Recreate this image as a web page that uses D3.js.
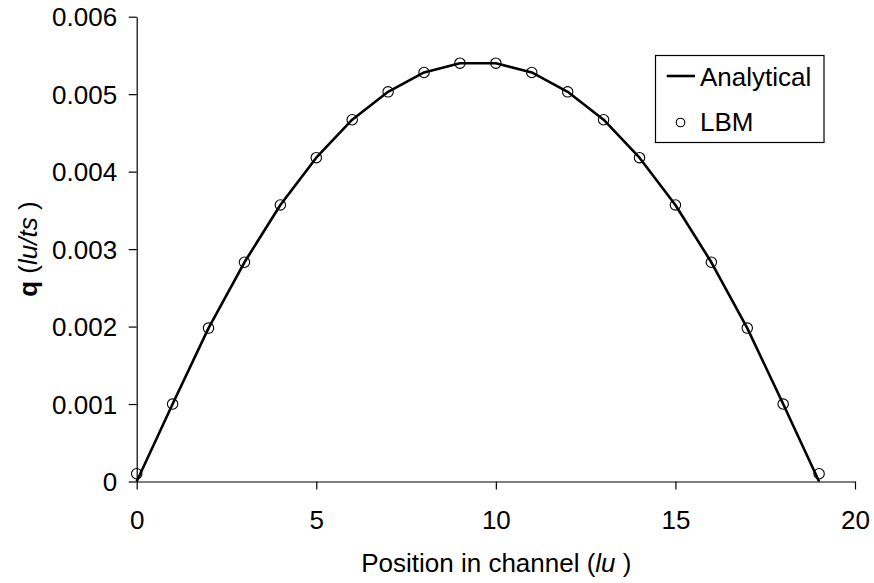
<!DOCTYPE html>
<html>
<head>
<meta charset="utf-8">
<script src="https://cdn.jsdelivr.net/npm/d3@7/dist/d3.min.js"></script>
<style>
  html, body { margin: 0; padding: 0; background: #fff; }
  svg { display: block; }
  text { font-family: "Liberation Sans", Arial, Helvetica, sans-serif; fill: #000; }
</style>
</head>
<body>
<svg id="chart" width="874" height="583"></svg>
<script>
// ---- data ----
const positions = [0,1,2,3,4,5,6,7,8,9,10,11,12,13,14,15,16,17,18,19];
const analytical = [0, 0.001, 0.00198, 0.00283, 0.00357, 0.00418, 0.00467, 0.00503, 0.00528, 0.0054,
                    0.0054, 0.00528, 0.00503, 0.00467, 0.00418, 0.00357, 0.00283, 0.00198, 0.001, 0];
const lbm = [0.0001, 0.001, 0.00198, 0.00283, 0.00357, 0.00418, 0.00467, 0.00503, 0.00528, 0.0054,
             0.0054, 0.00528, 0.00503, 0.00467, 0.00418, 0.00357, 0.00283, 0.00198, 0.001, 0.0001];
const xTicks = [0, 5, 10, 15, 20];
const yTicks = [0, 0.001, 0.002, 0.003, 0.004, 0.005, 0.006];
const yTickLabels = ["0", "0.001", "0.002", "0.003", "0.004", "0.005", "0.006"];
const seriesNames = ["Analytical", "LBM"];

// ---- layout ----
const svg = d3.select("#chart");
const pLeft = 136.7, pRight = 855, pTop = 16.7, pBottom = 481.5;
const x = d3.scaleLinear().domain([0, 20]).range([pLeft, pRight]);
const y = d3.scaleLinear().domain([0, 0.006]).range([pBottom, pTop]);
const fs = 26;

// x axis
const xAxis = d3.axisBottom(x).tickValues(xTicks).tickSizeInner(8).tickSizeOuter(0).tickPadding(0)
  .tickFormat(d3.format("d"));
const gx = svg.append("g").attr("transform", `translate(0,${pBottom})`).call(xAxis);
gx.select(".domain").attr("stroke", "#000").attr("stroke-width", 1.2);
gx.selectAll(".tick line").attr("stroke", "#000").attr("stroke-width", 1.2);
gx.selectAll(".tick text").attr("font-size", fs).attr("font-family", "Liberation Sans, Arial, sans-serif")
  .attr("y", 47).attr("dy", 0);

// y axis
const yAxis = d3.axisLeft(y).tickValues(yTicks).tickSizeInner(8).tickSizeOuter(0).tickPadding(0)
  .tickFormat((d, i) => yTickLabels[i]);
const gy = svg.append("g").attr("transform", `translate(${pLeft},0)`).call(yAxis);
gy.select(".domain").attr("stroke", "#000").attr("stroke-width", 1.2);
gy.selectAll(".tick line").attr("stroke", "#000").attr("stroke-width", 1.2);
gy.selectAll(".tick text").attr("font-size", fs).attr("font-family", "Liberation Sans, Arial, sans-serif")
  .attr("x", -19.5).attr("dy", "0.35em");

// analytical line
const line = d3.line().x((d, i) => x(positions[i])).y(d => y(d));
svg.append("path").datum(analytical)
  .attr("d", line).attr("fill", "none").attr("stroke", "#000").attr("stroke-width", 2.6)
  .attr("stroke-linejoin", "round");

// LBM circles
svg.append("g").selectAll("circle").data(lbm).join("circle")
  .attr("cx", (d, i) => x(positions[i])).attr("cy", d => y(d)).attr("r", 5.2)
  .attr("fill", "none").attr("stroke", "#000").attr("stroke-width", 1.1);

// axis titles
const xt = svg.append("text").attr("x", x(10) + 0.5).attr("y", 571.5).attr("text-anchor", "middle")
  .attr("font-size", fs);
xt.append("tspan").text("Position in channel (");
xt.append("tspan").attr("font-style", "italic").text("lu");
xt.append("tspan").text(" )");

const yt = svg.append("text").attr("transform", `translate(36.5,${(pTop + pBottom) / 2}) rotate(-90)`)
  .attr("text-anchor", "middle").attr("font-size", fs);
yt.append("tspan").attr("font-weight", "bold").text("q");
yt.append("tspan").text(" (");
yt.append("tspan").attr("font-style", "italic").text("lu/ts");
yt.append("tspan").text(" )");

// legend
const lg = svg.append("g");
lg.append("rect").attr("x", 655.5).attr("y", 55.5).attr("width", 168.5).attr("height", 87)
  .attr("fill", "#fff").attr("stroke", "#000").attr("stroke-width", 1.2);
lg.append("line").attr("x1", 666.7).attr("x2", 695).attr("y1", 76).attr("y2", 76)
  .attr("stroke", "#000").attr("stroke-width", 2.6);
lg.append("text").attr("x", 700).attr("y", 86).attr("font-size", fs).text(seriesNames[0]);
lg.append("circle").attr("cx", 680.5).attr("cy", 122.5).attr("r", 4.3)
  .attr("fill", "none").attr("stroke", "#000").attr("stroke-width", 1.1);
lg.append("text").attr("x", 700).attr("y", 131).attr("font-size", fs).text(seriesNames[1]);
</script>
</body>
</html>
